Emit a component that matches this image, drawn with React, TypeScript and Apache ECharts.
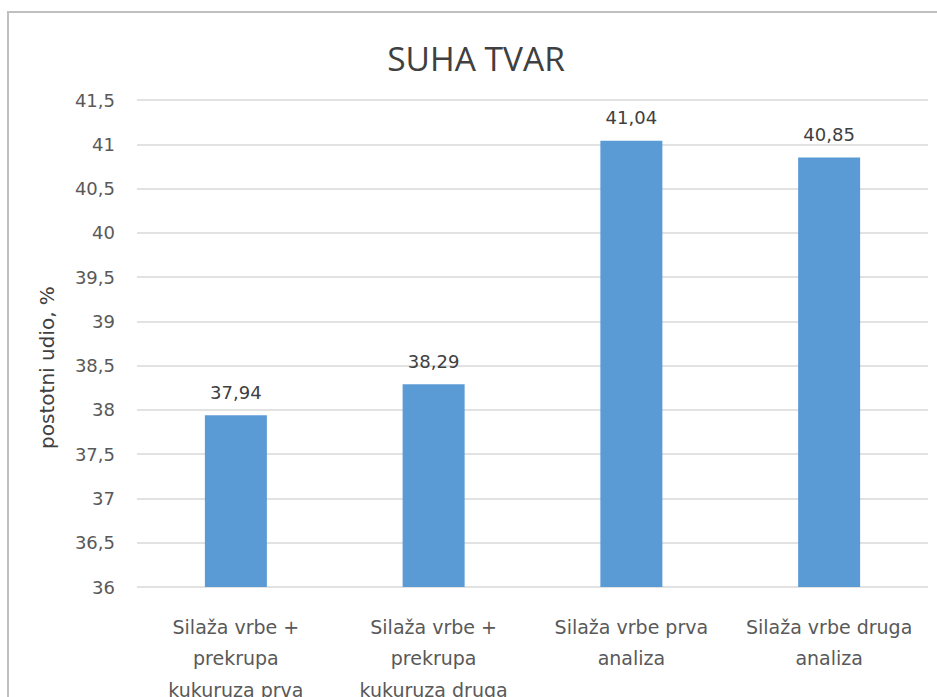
import React, { useEffect, useRef } from "react";
import * as echarts from "echarts";

const title = "SUHA TVAR";
const yAxisName = "postotni udio, %";
const categories = [
  "Silaža vrbe +\nprekrupa\nkukuruza prva",
  "Silaža vrbe +\nprekrupa\nkukuruza druga",
  "Silaža vrbe prva\nanaliza",
  "Silaža vrbe druga\nanaliza",
];
const values = [37.94, 38.29, 41.04, 40.85];
const yMin = 36;
const yMax = 41.5;
const yStep = 0.5;

const fmt = (v: number) => String(v).replace(".", ",");

export default function App() {
  const ref = useRef<HTMLDivElement>(null);
  useEffect(() => {
    if (!ref.current) return;
    const chart = echarts.init(ref.current, undefined, { renderer: "svg" });
    chart.setOption({
      animation: false,
      backgroundColor: "#ffffff",
      title: {
        text: title,
        left: 471,
        top: 36,
        textAlign: "center",
        textStyle: {
          fontFamily: "Open Sans",
          fontSize: 33.5,
          fontWeight: "normal",
          color: "#404040",
        },
      },
      graphic: [
        {
          type: "rect",
          shape: { x: 8, y: 12, width: 1000, height: 1000 },
          style: { fill: "none", stroke: "#bfbfbf", lineWidth: 2 },
          silent: true,
        },
      ],
      grid: { left: 137, right: 9, top: 100, bottom: 110, outerBoundsMode: "none" },
      xAxis: {
        type: "category",
        data: categories,
        axisLine: { show: false },
        axisTick: { show: false },
        axisLabel: {
          interval: 0,
          margin: 24,
          fontFamily: "DejaVu Sans",
          fontSize: 19,
          lineHeight: 31.5,
          color: "#595959",
        },
      },
      yAxis: {
        type: "value",
        min: yMin,
        max: yMax,
        interval: yStep,
        name: yAxisName,
        nameLocation: "middle",
        nameGap: 80,
        nameTextStyle: {
          fontFamily: "DejaVu Sans",
          fontSize: 20,
          color: "#404040",
          padding: [0, 48, 0, 0],
        },
        axisLine: { show: false },
        axisTick: { show: false },
        splitLine: { lineStyle: { color: "#d9d9d9", width: 1.5 } },
        axisLabel: {
          margin: 22,
          fontFamily: "DejaVu Sans",
          fontSize: 18,
          color: "#595959",
          formatter: (v: number) => fmt(v),
        },
      },
      series: [
        {
          type: "bar",
          data: values,
          barWidth: 62,
          itemStyle: { color: "#5b9bd5" },
          label: {
            show: true,
            position: "top",
            distance: 14,
            fontFamily: "DejaVu Sans",
            fontSize: 18,
            color: "#404040",
            formatter: (p: any) => fmt(p.value),
          },
        },
      ],
    });
    return () => chart.dispose();
  }, []);
  return (
    <div
      ref={ref}
      style={{ position: "fixed", left: 0, top: 0, width: 937, height: 697 }}
    />
  );
}
